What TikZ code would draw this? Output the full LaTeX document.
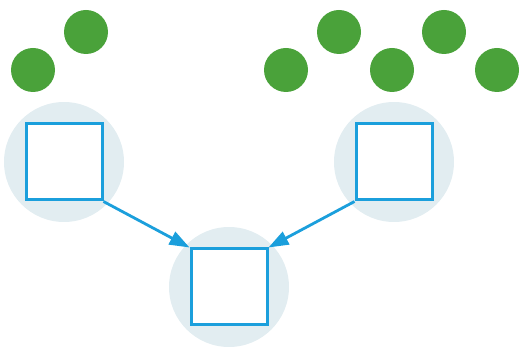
\documentclass[tikz,border=0pt]{standalone}
\usepackage{xcolor}
\usepackage{tikz}
\usetikzlibrary{arrows.meta,positioning}
\definecolor{linkblue}{HTML}{1B9FDC}
\definecolor{dotgreen}{HTML}{4AA23A}
\definecolor{haze}{HTML}{E2EDF1}

\begin{document}
\begin{tikzpicture}[x=1pt,y=-1pt,
  halo/.style={circle,fill=haze,minimum size=120pt,inner sep=0pt},
  unit/.style={draw=linkblue,line width=3pt,fill=white,minimum size=76pt,inner sep=0pt},
  dot/.style={circle,fill=dotgreen,minimum size=44pt,inner sep=0pt},
  link/.style={-{Triangle[length=20pt,width=14pt]},line width=2.8pt,linkblue}]
  \useasboundingbox (0,0) rectangle (520,347);
  % halos behind the boxes
  \node[halo] (hl) at (64,162) {};
  \node[halo] (hr) at (394,162) {};
  \node[halo] (hb) at (229,287) {};
  % boxes
  \node[unit] (l) at (64,162) {};
  \node[unit] (r) at (394,162) {};
  \node[unit] (b) at (229,287) {};
  % dots
  \node[dot] (d1) at (33,70) {};
  \node[dot] (d2) at (86,32) {};
  \node[dot] (d3) at (286,70) {};
  \node[dot] (d4) at (339,32) {};
  \node[dot] (d5) at (392,70) {};
  \node[dot] (d6) at (444,32) {};
  \node[dot] (d7) at (497,70) {};
  \draw[link] (l.south east) -- (b.north west);
  \draw[link] (r.south west) -- (b.north east);
\end{tikzpicture}
\end{document}
